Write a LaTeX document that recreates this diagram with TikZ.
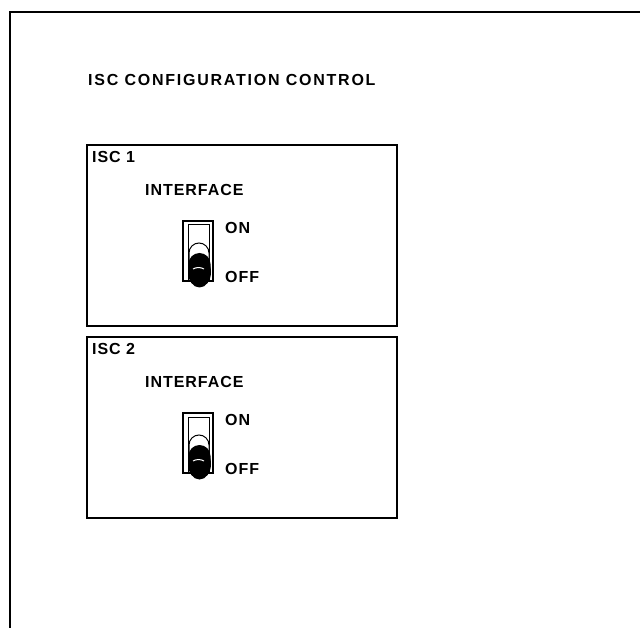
\documentclass[tikz,border=0pt]{standalone}
\usepackage{fontspec}
\newfontfamily\lblfont[LetterSpace=6]{Liberation Sans Bold}
\newfontfamily\ttlfont[LetterSpace=11]{Liberation Sans Bold}
\begin{document}
\begin{tikzpicture}[x=1pt,y=-1pt,
  frameline/.style={line width=2pt},
  panel/.style={draw,line width=1.8pt},
  lbl/.style={font=\lblfont\fontsize{16}{16}\selectfont,inner sep=0pt,anchor=west},
  ttl/.style={font=\ttlfont\fontsize{16}{16}\selectfont,inner sep=0pt,anchor=west},
  swframe/.style={draw,line width=1.3pt},
  swinner/.style={draw,line width=1pt}]
\useasboundingbox (0,0) rectangle (640,628);
% outer frame (left and top edges)
\draw[frameline] (10,628) -- (10,12) -- (640,12);
\node[ttl] (title) at (88,80) {ISC CONFIGURATION CONTROL};

\foreach \n/\T in {1/145,2/337}{
  \draw[panel] (87,\T) rectangle (397,\T+181);
  \node[lbl] (isc\n) at (92,\T+12) {ISC \n};
  \node[lbl] (intf\n) at (145,\T+45) {INTERFACE};
  \node[lbl] (on\n) at (225,\T+83) {ON};
  \node[lbl] (off\n) at (225,\T+132) {OFF};
  % toggle switch
  \begin{scope}[shift={(0,\T+76)}]
    \draw[swframe] (183,0) rectangle (213,60);
    \draw[line width=1.8pt] (183,0) -- (183,60) -- (190,60);
    \draw[swinner] (188,60) -- (188,4) -- (209,4) -- (209,60);
    % lever upper (white dome)
    \draw[swinner,fill=white] (189,42) -- (189,32) arc[start angle=180,end angle=360,radius=10] -- (209,42);
    % lever black bulb
    \fill (199.5,51) ellipse[x radius=11.5,y radius=15.5];
    \fill (188.5,43) arc[start angle=180,end angle=360,radius=11] -- (210.5,52) -- (188.5,52) -- cycle;
    \draw[white,line width=1pt] (193,48) arc[start angle=240,end angle=300,radius=11];
  \end{scope}
}
\end{tikzpicture}
\end{document}
